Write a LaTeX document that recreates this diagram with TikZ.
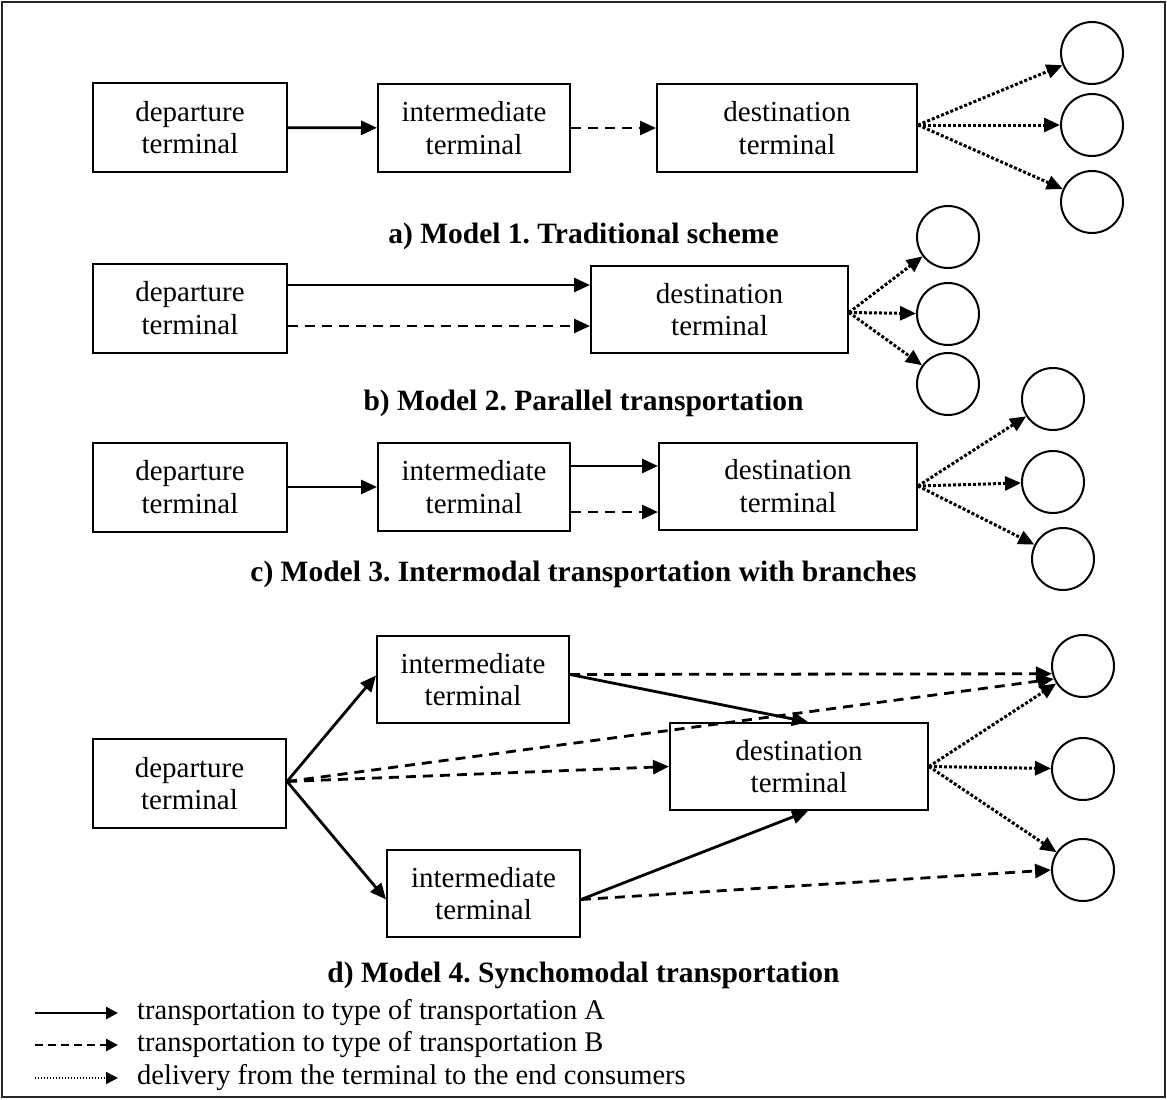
\documentclass[tikz,border=0pt]{standalone}
\usepackage{fontspec}
\setmainfont{Liberation Serif}
\usetikzlibrary{arrows.meta,calc}
\frenchspacing
\begin{document}
\begin{tikzpicture}[x=1pt,y=-1pt,
  box/.style={draw, line width=2pt, inner sep=0pt, align=center, font=\fontsize{29}{32.5}\selectfont},
  cons/.style={draw, circle, line width=2pt, minimum size=62pt, inner sep=0pt},
  tipA/.style={-{Triangle[length=16pt,width=14pt]}},
  lA/.style={tipA, line width=2.8pt},
  lB/.style={tipA, line width=2.8pt, dash pattern=on 10pt off 7pt},
  lC/.style={tipA, line width=3pt, dash pattern=on 3pt off 2pt},
  tipL/.style={-{Triangle[length=12pt,width=12pt]}},
  captxt/.style={font=\fontsize{29.5}{34}\bfseries\selectfont, anchor=base, inner sep=0pt},
  leg/.style={font=\fontsize{28.5}{34}\selectfont, anchor=base west, inner sep=0pt}
]
\useasboundingbox (0,0) rectangle (1167,1100);
\draw[line width=2pt, black!85] (1.5,1.5) rectangle (1164.5,1097);

% ---------- a) ----------
\node[box, minimum width=194pt, minimum height=89pt] (a1) at (190,127.5) {departure\\terminal};
\node[box, minimum width=192pt, minimum height=88pt] (a2) at (474,128) {intermediate\\terminal};
\node[box, minimum width=260pt, minimum height=88pt] (a3) at (787,128) {destination\\terminal};
\node[cons] (ac1) at (1092,53) {};
\node[cons] (ac2) at (1092,125) {};
\node[cons] (ac3) at (1092,202) {};
\draw[lA] (a1) -- (a2);
\draw[lB] (a2) -- (a3);
\draw[lC] ([yshift=3pt]a3.east) -- (ac1);
\draw[lC] ([yshift=3pt]a3.east) -- (ac2);
\draw[lC] ([yshift=3pt]a3.east) -- (ac3);
\node[captxt] (capa) at (583.5,243) {a) Model 1. Traditional scheme};

% ---------- b) ----------
\node[box, minimum width=194pt, minimum height=89pt] (b1) at (190,308) {departure\\terminal};
\node[box, minimum width=257pt, minimum height=87pt] (b2) at (719.5,309.5) {destination\\terminal};
\node[cons] (bc1) at (948,237) {};
\node[cons] (bc2) at (948,314) {};
\node[cons] (bc3) at (948,384) {};
\draw[lA] (b1.east |- 0,285) -- (b2.west |- 0,285);
\draw[lB] (b1.east |- 0,326) -- (b2.west |- 0,326);
\draw[lC] ([yshift=-3pt]b2.east) -- (bc1);
\draw[lC] ([yshift=-3pt]b2.east) -- (bc2);
\draw[lC] ([yshift=-3pt]b2.east) -- (bc3);
\node[captxt] (capb) at (583.5,410) {b) Model 2. Parallel transportation};

% ---------- c) ----------
\node[box, minimum width=194pt, minimum height=89pt] (c1) at (190,487) {departure\\terminal};
\node[box, minimum width=192pt, minimum height=88pt] (c2) at (474,487) {intermediate\\terminal};
\node[box, minimum width=258pt, minimum height=87pt] (c3) at (788,486) {destination\\terminal};
\node[cons] (cc1) at (1053,399) {};
\node[cons] (cc2) at (1053,482) {};
\node[cons] (cc3) at (1063,559) {};
\draw[lA] (c1) -- (c2);
\draw[lA] (c2.east |- 0,466) -- (c3.west |- 0,466);
\draw[lB] (c2.east |- 0,512) -- (c3.west |- 0,512);
\draw[lC] (c3.east) -- (cc1);
\draw[lC] (c3.east) -- (cc2);
\draw[lC] (c3.east) -- (cc3);
\node[captxt] (capc) at (583.5,581) {c) Model 3. Intermodal transportation with branches};

% ---------- d) ----------
\node[box, minimum width=193pt, minimum height=89pt] (d1) at (189.5,783.5) {departure\\terminal};
\node[box, minimum width=192pt, minimum height=87pt] (d2) at (473,679.5) {intermediate\\terminal};
\node[box, minimum width=193pt, minimum height=87pt] (d3) at (483.5,893.5) {intermediate\\terminal};
\node[box, minimum width=258pt, minimum height=87pt] (d4) at (799,766.5) {destination\\terminal};
\node[cons] (dc1) at (1083,666) {};
\node[cons] (dc2) at (1083,769) {};
\node[cons] (dc3) at (1083,870) {};
\coordinate (dO) at ([yshift=2pt]d1.east);
\draw[lA] (dO) -- ([yshift=4pt]d2.west);
\draw[lA] (dO) -- ([yshift=-6pt]d3.west);
\draw[lA] ([yshift=5pt]d2.east) -- ([xshift=9pt]d4.north);
\draw[lA] ([yshift=-6pt]d3.east) -- ([xshift=9pt]d4.south);
\draw[lB] ([yshift=5pt]d2.east) -- (dc1.194);
\draw[lB] (dO) -- (dc1.204);
\draw[lB] (dO) -- (d4.west);
\draw[lB] ([yshift=-6pt]d3.east) -- (dc3.west);
\draw[lC] (d4.east) -- (dc1);
\draw[lC] (d4.east) -- (dc2);
\draw[lC] (d4.east) -- (dc3);
\node[captxt] (capd) at (583.5,982) {d) Model 4. Synchomodal transportation};

% ---------- legend ----------
\coordinate (l1s) at (35,1013); \coordinate (l1e) at (118,1013);
\coordinate (l2s) at (35,1045); \coordinate (l2e) at (118,1045);
\coordinate (l3s) at (35,1078); \coordinate (l3e) at (118,1078);
\draw[tipL, line width=2.6pt] (l1s) -- (l1e);
\draw[tipL, line width=2.6pt, dash pattern=on 8pt off 5pt] (l2s) -- (l2e);
\draw[tipL, line width=1.6pt, dash pattern=on 1.4pt off 1.6pt] (l3s) -- (l3e);
\node[leg] (t1) at (137,1019) {transportation to type of transportation A};
\node[leg] (t2) at (137,1051) {transportation to type of transportation B};
\node[leg] (t3) at (137,1084) {delivery from the terminal to the end consumers};
\end{tikzpicture}
\end{document}
